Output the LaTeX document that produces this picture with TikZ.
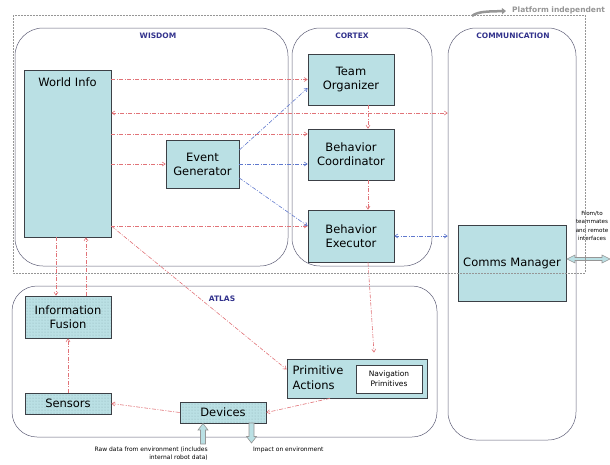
\documentclass[tikz,border=0pt]{standalone}
\usepackage{fontspec}
\setmainfont{DejaVu Sans}
\usetikzlibrary{arrows.meta,patterns,calc}
\definecolor{boxfill}{RGB}{186,224,228}
\definecolor{boxdraw}{RGB}{60,64,70}
\definecolor{groupdraw}{RGB}{95,95,120}
\definecolor{labelblue}{RGB}{50,50,140}
\definecolor{redarr}{RGB}{225,115,120}
\definecolor{bluearr}{RGB}{95,120,205}
\definecolor{outergray}{RGB}{150,150,150}
\definecolor{dotcol}{RGB}{140,175,180}
\begin{document}
\begin{tikzpicture}[x=1pt,y=-1pt,
  box/.style={draw=boxdraw,fill=boxfill,line width=0.7pt,inner sep=1pt,align=center,font=\fontsize{11.5}{14}\selectfont},
  dotbox/.style={box,preaction={fill=boxfill},pattern=dots,pattern color=dotcol},
  group/.style={draw=groupdraw,line width=0.5pt,rounded corners=28pt},
  grouplabel/.style={font=\fontsize{7.5}{9}\selectfont\bfseries,text=labelblue,inner sep=0pt},
  dd/.style={dash pattern=on 4pt off 1.5pt on 1pt off 1.5pt,line width=0.6pt},
  rarr/.style={dd,draw=redarr,-{Straight Barb[length=3pt,width=4pt]}},
  rarrb/.style={dd,draw=redarr,{Straight Barb[length=3pt,width=4pt]}-{Straight Barb[length=3pt,width=4pt]}},
  barr/.style={dd,draw=bluearr,-{Straight Barb[length=3pt,width=4pt]}},
  barrb/.style={dd,draw=bluearr,{Straight Barb[length=3pt,width=4pt]}-{Straight Barb[length=3pt,width=4pt]}},
  smalltext/.style={font=\fontsize{6}{8}\selectfont,inner sep=0pt}
]
\useasboundingbox (0,0) rectangle (610,464);

% groups
\node[group,minimum width=273pt,minimum height=238pt] (wisdom) at (151.5,147) {};
\node[grouplabel] (wisdomlab) at (158,36) {WISDOM};
\node[group,minimum width=140pt,minimum height=238pt] (cortex) at (362,147) {};
\node[grouplabel] (cortexlab) at (352,36) {CORTEX};
\node[group,minimum width=128pt,minimum height=412pt] (comm) at (512,234) {};
\node[grouplabel] (commlab) at (513,36) {COMMUNICATION};
\node[group,rounded corners=25pt,minimum width=425pt,minimum height=151pt] (atlas) at (224.5,361.5) {};
\node[grouplabel] (atlaslab) at (222,299) {ATLAS};

% boxes
\node[box,minimum width=87pt,minimum height=167pt] (wi) at (67.5,153.5) {};
\node[font=\fontsize{11.5}{14}\selectfont,inner sep=0pt] (witext) at (67.5,82) {World Info};
\node[box,minimum width=73pt,minimum height=48pt] (eg) at (202.5,164) {Event\\Generator};
\node[box,minimum width=86pt,minimum height=51pt] (to) at (351,79.5) {Team\\Organizer};
\node[box,minimum width=86pt,minimum height=51pt] (bc) at (351,154.5) {Behavior\\Coordinator};
\node[box,minimum width=86pt,minimum height=52pt] (be) at (351,236) {Behavior\\Executor};
\node[box,minimum width=108pt,minimum height=76pt] (cm) at (512,263) {Comms Manager};
\node[dotbox,minimum width=86pt,minimum height=42pt] (if) at (68,317) {Information\\Fusion};
\node[dotbox,minimum width=86pt,minimum height=21pt] (se) at (68,403.5) {Sensors};
\node[dotbox,minimum width=86pt,minimum height=21pt] (dev) at (223,412.5) {Devices};
\node[box,minimum width=140pt,minimum height=39pt] (pa) at (357,378.5) {};
\node[font=\fontsize{11.5}{15}\selectfont,align=left,inner sep=0pt] (patext) at (318,378) {Primitive\\Actions};
\node[draw=boxdraw,fill=white,line width=0.6pt,minimum width=66pt,minimum height=28pt,inner sep=0pt,align=center,font=\fontsize{7.5}{10}\selectfont] (np) at (389,379) {Navigation\\Primitives};

% red arrows
\draw[rarr] (wi.east |- to.west) -- (to.west);
\draw[rarrb] (wi.east |- 0,113) -- (comm.west |- 0,113);
\draw[rarr] (wi.east |- 0,134) -- (bc.west |- 0,134);
\draw[rarr] (wi.east |- eg.west) -- (eg.west);
\draw[rarr] (wi.east |- 0,226) -- (be.west |- 0,226);
\draw[rarr] ([xshift=17pt]to.south) -- ([xshift=17pt]bc.north);
\draw[rarr] ([xshift=17pt]bc.south) -- ([xshift=17pt]be.north);
\draw[rarr] ([xshift=17pt]be.south) -- ([xshift=17pt,yshift=6pt]pa.north);
\draw[rarr] ([xshift=-11.5pt]wi.south) -- ([xshift=-12pt]if.north);
\draw[rarr] ([xshift=18pt]if.north) -- ([xshift=18.5pt]wi.south);
\draw[rarr] (se.north) -- (if.south);
\draw[rarr] (dev.west) -- (se.east);
\draw[rarr] ([xshift=-27pt]pa.south) -- (dev.east);
\draw[rarr] (wi.east |- 0,226) -- ([yshift=9pt]pa.west);

% blue arrows
\draw[barr] ([yshift=14pt]eg.east) -- ([yshift=-8.5pt]to.west);
\draw[barr] (eg.east) -- (eg.east -| bc.west);
\draw[barr] ([yshift=-14pt]eg.east) -- ([yshift=10pt]be.west);
\draw[barrb] (be.east) -- (be.east -| comm.west);

% external double arrow
\coordinate (ext) at (610,259);
\draw[draw=outergray,fill=boxfill,line width=0.6pt]
  (567,259) -- (575,255) -- (575,257.5) -- (602,257.5) -- (602,255) -- (610,259)
  -- (602,263) -- (602,260.5) -- (575,260.5) -- (575,263) -- cycle;
\node[font=\fontsize{5.6}{8.6}\selectfont,inner sep=0pt,align=center] (extlab) at (592,226) {From/to\\teammates\\and remote\\interfaces};

% bottom arrows
\draw[draw=outergray,fill=boxfill,line width=0.6pt]
  (203,423.5) -- (208,430) -- (205.5,430) -- (205.5,444) -- (200.5,444) -- (200.5,430) -- (198,430) -- cycle;
\draw[draw=outergray,fill=boxfill,line width=0.6pt]
  (251.5,443) -- (256.5,436.5) -- (254,436.5) -- (254,423) -- (249,423) -- (249,436.5) -- (246.5,436.5) -- cycle;
\node[smalltext,align=right,anchor=north east] (rawlab) at (208,447) {Raw data from environment (includes\\internal robot data)};
\node[smalltext,anchor=north west] (implab) at (253,447) {Impact on environment};

% platform independent
\draw[outergray,line width=2.5pt,-{Triangle[length=4pt,width=6pt]}] (472,16) .. controls (478,11) and (490,11.5) .. (506,11);
\node[font=\fontsize{7.5}{9}\selectfont\bfseries,text=outergray,anchor=west,inner sep=0pt] (plat) at (512,10) {Platform independent};

% outer dashed
\draw[outergray,dashed,dash pattern=on 2pt off 1pt,line width=0.6pt] (13,15) rectangle (585,273);
\end{tikzpicture}
\end{document}
